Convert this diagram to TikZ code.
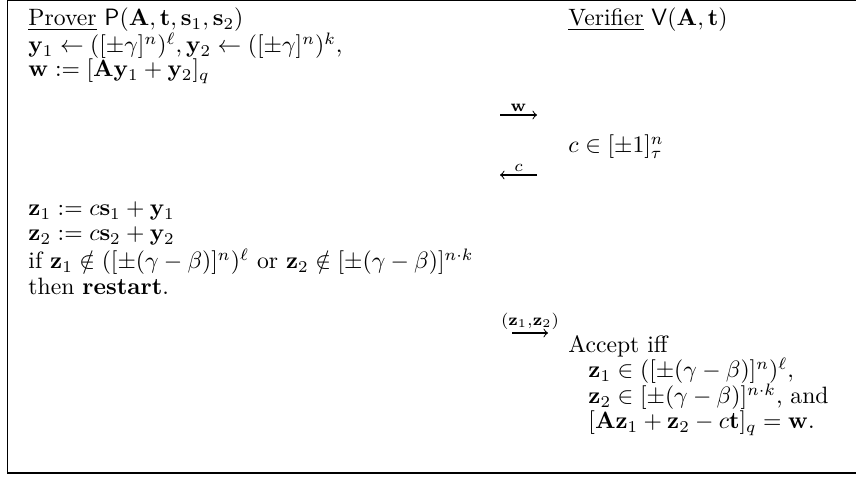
\documentclass[tikz,border=0pt]{standalone}
\usepackage{amsmath,amssymb}
\usepackage{tikz}

\begin{document}
\begin{tikzpicture}[x=0.4228pt,y=-0.4228pt,
  txt/.style={anchor=base west, inner sep=0pt},
  msg/.style={->, >=to, line width=0.45pt},
  lbl/.style={inner sep=1.2pt}]
\useasboundingbox (0,0) rectangle (856,477);
% frame
\draw[line width=0.5pt] (880,0.5) -- (7.5,0.5) -- (7.5,473) -- (880,473);

% Prover
\node[txt] (prv) at (28,26) {\underline{Prover} $\mathsf{P}(\mathbf{A},\mathbf{t},\mathbf{s}_1,\mathbf{s}_2)$};
\node[txt] (y) at (28,53) {$\mathbf{y}_1\leftarrow([\pm\gamma]^n)^\ell,\mathbf{y}_2\leftarrow([\pm\gamma]^n)^k,$};
\node[txt] (w) at (28,77) {$\mathbf{w}:=[\mathbf{A}\mathbf{y}_1+\mathbf{y}_2]_q$};
\node[txt] (z1) at (28,216) {$\mathbf{z}_1:=c\mathbf{s}_1+\mathbf{y}_1$};
\node[txt] (z2) at (28,241) {$\mathbf{z}_2:=c\mathbf{s}_2+\mathbf{y}_2$};
\node[txt] (chk) at (28,269) {if $\mathbf{z}_1\notin([\pm(\gamma-\beta)]^n)^\ell$ or $\mathbf{z}_2\notin[\pm(\gamma-\beta)]^{n\cdot k}$};
\node[txt] (rst) at (28,295) {then \textbf{restart}.};

% Verifier
\node[txt] (vrf) at (568,26) {\underline{Verifier} $\mathsf{V}(\mathbf{A},\mathbf{t})$};
\node[txt] (ch) at (568,153) {$c\in[\pm1]^n_\tau$};
\node[txt] (acc) at (568,353) {Accept iff};
\node[txt] (a1) at (588,378) {$\mathbf{z}_1\in([\pm(\gamma-\beta)]^n)^\ell,$};
\node[txt] (a2) at (588,404) {$\mathbf{z}_2\in[\pm(\gamma-\beta)]^{n\cdot k}$, and};
\node[txt] (a3) at (588,429) {$[\mathbf{A}\mathbf{z}_1+\mathbf{z}_2-c\mathbf{t}]_q=\mathbf{w}.$};

% messages
\coordinate (wL) at (500,115);
\coordinate (wR) at (537,115);
\coordinate (cL) at (500,175);
\coordinate (cR) at (537,175);
\coordinate (zL) at (512,333);
\coordinate (zR) at (548,333);
\draw[msg] (wL) -- node[lbl, above] {$\scriptstyle\mathbf{w}$} (wR);
\draw[msg] (cR) -- node[lbl, above] {$\scriptstyle c$} (cL);
\draw[msg] (zL) -- node[lbl, above] {$\scriptstyle(\mathbf{z}_1,\mathbf{z}_2)$} (zR);
\end{tikzpicture}
\end{document}
